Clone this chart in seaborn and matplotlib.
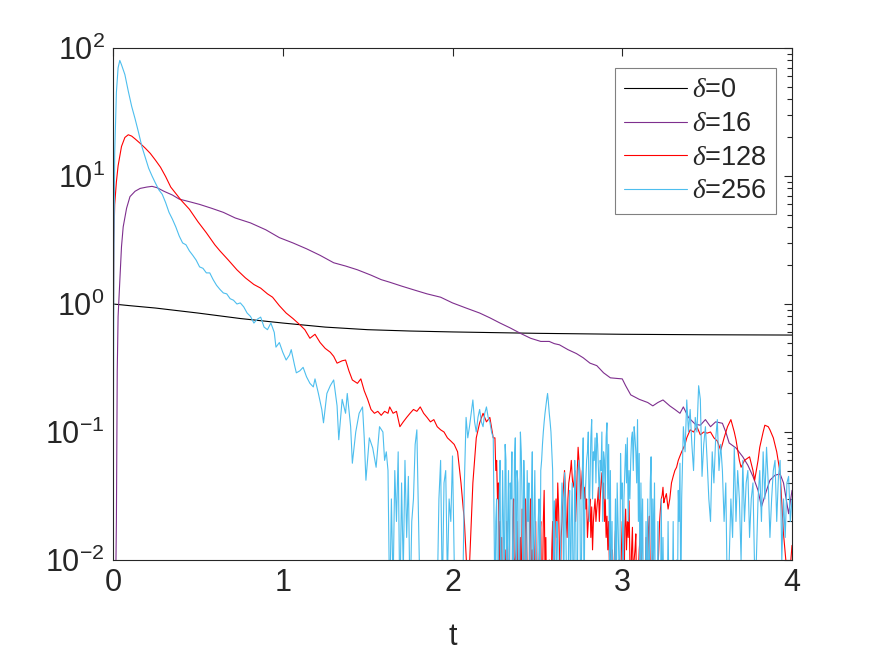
import numpy as np
import pandas as pd
import matplotlib
matplotlib.use("Agg")
import matplotlib.pyplot as plt
import seaborn as sns

# values (log scale, values < 0.01 fall below the axis)

t0 = [0, 0.1, 0.25, 0.5, 0.75, 1.0, 1.25, 1.5, 1.75, 2.0, 2.5, 3.0, 3.5, 4.0]
y0 = [1.0, 0.97, 0.93, 0.85, 0.77, 0.71, 0.66, 0.63, 0.615, 0.605, 0.59, 0.58, 0.575, 0.572]

t16 = [0.0, 0.015, 0.02, 0.025, 0.03, 0.04, 0.05, 0.06, 0.08, 0.10, 0.13, 0.16, 0.20, 0.23,
       0.26, 0.30, 0.35, 0.39, 0.45, 0.51, 0.58, 0.65, 0.72, 0.81, 0.90, 0.98, 1.06, 1.14,
       1.22, 1.30, 1.37, 1.44, 1.52, 1.58, 1.63, 1.70, 1.78, 1.85, 1.93, 2.00, 2.08, 2.16,
       2.22, 2.28, 2.34, 2.40, 2.46, 2.52, 2.57, 2.60, 2.63, 2.68, 2.73, 2.77, 2.81, 2.85,
       2.89, 2.93, 2.97, 3.00, 3.02, 3.05, 3.10, 3.15, 3.18, 3.21, 3.24, 3.28, 3.31, 3.34,
       3.36, 3.39, 3.43, 3.46, 3.49, 3.52, 3.55, 3.59, 3.61, 3.63, 3.67, 3.71, 3.74, 3.77,
       3.80, 3.82, 3.85, 3.87, 3.90, 3.93, 3.95, 3.98, 4.0]
y16 = [0.003, 0.005, 0.02, 0.3, 0.8, 1.5, 2.8, 4.0, 5.6, 6.9, 7.6, 8.0, 8.2, 8.3,
       8.1, 7.6, 7.1, 6.6, 6.3, 6.0, 5.6, 5.2, 4.7, 4.3, 3.8, 3.3, 3.0, 2.7,
       2.4, 2.1, 1.98, 1.85, 1.68, 1.55, 1.48, 1.38, 1.28, 1.2, 1.13, 1.02, 0.93, 0.85,
       0.78, 0.71, 0.65, 0.59, 0.54, 0.51, 0.51, 0.49, 0.48, 0.44, 0.41, 0.38, 0.345, 0.33,
       0.29, 0.265, 0.262, 0.26, 0.23, 0.195, 0.18, 0.17, 0.16, 0.17, 0.178, 0.16, 0.15, 0.14,
       0.157, 0.13, 0.115, 0.113, 0.125, 0.11, 0.12, 0.117, 0.1, 0.082, 0.075, 0.064, 0.055, 0.045,
       0.035, 0.026, 0.035, 0.042, 0.046, 0.047, 0.04, 0.023, 0.035]

# delta = 128: smooth part up to t = 2.24, noisy part from 2.25 to 3.35, tail after
t128_a = [0, 0.002, 0.005, 0.01, 0.02, 0.03, 0.05, 0.07, 0.09, 0.11, 0.13, 0.16, 0.19, 0.22,
          0.25, 0.28, 0.31, 0.34, 0.37, 0.40, 0.45, 0.50, 0.55, 0.60, 0.63, 0.68, 0.73, 0.78,
          0.83, 0.87, 0.91, 0.94, 0.98, 1.02, 1.06, 1.10, 1.13, 1.16, 1.19, 1.22, 1.25, 1.28,
          1.30, 1.32, 1.35, 1.37, 1.39, 1.41, 1.44, 1.46, 1.48, 1.50, 1.52, 1.54, 1.56, 1.58,
          1.60, 1.62, 1.63, 1.65, 1.67, 1.69, 1.71, 1.73, 1.75, 1.77, 1.79, 1.81, 1.83, 1.85,
          1.87, 1.89, 1.91, 1.93, 1.95, 1.97, 1.99, 2.01, 2.03, 2.05, 2.07, 2.09, 2.10, 2.12,
          2.14, 2.16, 2.18, 2.20, 2.22, 2.24]
y128_a = [0.004, 0.5, 3, 6, 9, 12, 17, 20, 21, 20.5, 19.5, 18, 16.5, 15,
          13.3, 11.7, 9.9, 8.2, 7.3, 6.5, 5.5, 4.4, 3.6, 2.9, 2.6, 2.2, 1.85, 1.6,
          1.42, 1.33, 1.2, 1.13, 0.97, 0.85, 0.77, 0.69, 0.63, 0.54, 0.58, 0.5, 0.45, 0.42,
          0.39, 0.345, 0.36, 0.365, 0.3, 0.255, 0.24, 0.26, 0.21, 0.18, 0.15, 0.14, 0.145, 0.135,
          0.145, 0.14, 0.157, 0.14, 0.145, 0.11, 0.12, 0.13, 0.14, 0.15, 0.145, 0.157, 0.14, 0.13,
          0.12, 0.125, 0.11, 0.104, 0.1, 0.09, 0.085, 0.08, 0.07, 0.04, 0.02, 0.006, 0.009, 0.04,
          0.09, 0.118, 0.14, 0.12, 0.13, 0.09]
t128_b = np.round(np.arange(2.25, 3.355, 0.01), 2)
y128_b = [0.09, 0.06, 0.04, 0.02, 0.015, 0.004, 0.012, 0.02, 0.006, 0.008,
          0.004, 0.03, 0.01, 0.02, 0.004, 0.015, 0.025, 0.006, 0.03, 0.008,
          0.004, 0.03, 0.012, 0.004, 0.02, 0.004, 0.01, 0.02, 0.006, 0.035,
          0.015, 0.004, 0.01, 0.004, 0.02, 0.008, 0.03, 0.04, 0.012, 0.015,
          0.03, 0.05, 0.02, 0.03, 0.045, 0.06, 0.037, 0.05, 0.03, 0.076,
          0.05, 0.04, 0.045, 0.037, 0.03, 0.02, 0.03, 0.026, 0.02, 0.03,
          0.025, 0.037, 0.03, 0.048, 0.04, 0.03, 0.022, 0.02, 0.015, 0.012,
          0.008, 0.017, 0.004, 0.01, 0.006, 0.02, 0.004, 0.025, 0.02, 0.029,
          0.006, 0.018, 0.01, 0.016, 0.004, 0.012, 0.02, 0.008, 0.004, 0.015,
          0.01, 0.022, 0.005, 0.012, 0.006, 0.004, 0.008, 0.02, 0.03, 0.037,
          0.03, 0.033, 0.025, 0.03, 0.04, 0.045, 0.05, 0.053, 0.06, 0.065, 0.07]
# half-step samples in the noisy band (t = 2.255 ... 3.245)
t128_m = np.round(np.arange(2.255, 3.25, 0.01), 3)
y128_m = [0.05, 0.03, 0.01, 0.004, 0.004, 0.008, 0.004, 0.012, 0.004, 0.004,
          0.02, 0.004, 0.012, 0.004, 0.008, 0.004, 0.012, 0.004, 0.02, 0.004,
          0.02, 0.004, 0.006, 0.012, 0.004, 0.006, 0.015, 0.004, 0.02, 0.008,
          0.004, 0.006, 0.004, 0.012, 0.004, 0.02, 0.015, 0.025, 0.004, 0.02,
          0.04, 0.035, 0.015, 0.04, 0.05, 0.045, 0.04, 0.02, 0.05, 0.06,
          0.03, 0.05, 0.03, 0.025, 0.015, 0.025, 0.015, 0.012, 0.025, 0.02,
          0.03, 0.02, 0.04, 0.03, 0.02, 0.015, 0.012, 0.008, 0.01, 0.004,
          0.012, 0.006, 0.004, 0.008, 0.012, 0.008, 0.018, 0.012, 0.015, 0.01,
          0.012, 0.006, 0.012, 0.004, 0.008, 0.015, 0.004, 0.006, 0.008, 0.004,
          0.018, 0.008, 0.008, 0.004, 0.004, 0.006, 0.012, 0.025, 0.032, 0.028]
t128_c = [3.37, 3.38, 3.40, 3.42, 3.44, 3.46, 3.48, 3.50, 3.52, 3.54, 3.56, 3.58, 3.60, 3.62,
          3.64, 3.66, 3.67, 3.69, 3.70, 3.72, 3.75, 3.77, 3.78, 3.80, 3.81, 3.83, 3.84, 3.86,
          3.87, 3.89, 3.91, 3.93, 3.95, 3.97, 3.98, 4.00]
y128_c = [0.08, 0.09, 0.104, 0.1, 0.11, 0.095, 0.1, 0.098, 0.1, 0.09, 0.085, 0.072, 0.09, 0.11,
          0.125, 0.1, 0.087, 0.06, 0.053, 0.06, 0.064, 0.05, 0.042, 0.06, 0.076, 0.1, 0.113, 0.11,
          0.104, 0.09, 0.07, 0.048, 0.016, 0.008, 0.006, 0.013]

# delta = 256: decay part up to t = 1.59, noisy part from 1.60 to 4.00
t256_a = [0, 0.005, 0.01, 0.02, 0.03, 0.04, 0.05, 0.07, 0.09, 0.11, 0.13, 0.15, 0.17, 0.19,
          0.21, 0.23, 0.25, 0.27, 0.29, 0.31, 0.33, 0.35, 0.37, 0.39, 0.41, 0.43, 0.45, 0.47,
          0.49, 0.51, 0.53, 0.55, 0.57, 0.59, 0.61, 0.63, 0.65, 0.67, 0.69, 0.71, 0.73, 0.75,
          0.77, 0.79, 0.81, 0.83, 0.85, 0.87, 0.89, 0.91, 0.93, 0.95, 0.96, 0.98, 1.00, 1.02,
          1.04, 1.05, 1.07, 1.08, 1.10, 1.12, 1.14, 1.16, 1.18, 1.19, 1.21, 1.23, 1.24, 1.26,
          1.28, 1.30, 1.32, 1.33, 1.35, 1.37, 1.38, 1.40, 1.41, 1.43, 1.45, 1.47, 1.48, 1.49,
          1.51, 1.53, 1.55, 1.57, 1.59]
y256_a = [0.005, 2, 15, 45, 70, 80, 74, 62, 46, 35, 28, 22, 17, 14,
          11.5, 10, 8.8, 7.8, 7.2, 6.2, 5.2, 4.6, 4.0, 3.4, 3.0, 2.9, 2.6, 2.4,
          2.2, 1.95, 1.9, 1.75, 1.75, 1.55, 1.4, 1.3, 1.22, 1.2, 1.1, 1.07, 1.0, 1.02,
          0.95, 0.85, 0.8, 0.71, 0.76, 0.79, 0.66, 0.63, 0.71, 0.6, 0.46, 0.5, 0.42, 0.365,
          0.4, 0.44, 0.33, 0.29, 0.3, 0.32, 0.27, 0.24, 0.225, 0.26, 0.2, 0.15, 0.118, 0.2,
          0.23, 0.255, 0.16, 0.087, 0.18, 0.14, 0.2, 0.11, 0.057, 0.1, 0.14, 0.157, 0.09, 0.042,
          0.09, 0.075, 0.053, 0.11, 0.1]
t256_b = np.round(np.arange(1.60, 4.005, 0.01), 2)
y256_b = [0.06, 0.07, 0.05, 0.004, 0.03, 0.006, 0.05, 0.02, 0.07, 0.004,
          0.04, 0.008, 0.06, 0.015, 0.045, 0.004, 0.02, 0.03, 0.08, 0.104,
          0.02, 0.004, 0.003, 0.004, 0.003, 0.004, 0.003, 0.004, 0.003, 0.004,
          0.003, 0.005, 0.03, 0.06, 0.005, 0.04, 0.05, 0.007, 0.03, 0.02,
          0.065, 0.01, 0.004, 0.003, 0.004, 0.003, 0.005, 0.04, 0.13, 0.09,
          0.11, 0.14, 0.178, 0.12, 0.1, 0.13, 0.15, 0.12, 0.11, 0.14,
          0.157, 0.13, 0.12, 0.1, 0.09, 0.004, 0.03, 0.005, 0.06, 0.008,
          0.02, 0.08, 0.004, 0.05, 0.04, 0.07, 0.01, 0.09, 0.05, 0.004,
          0.1, 0.03, 0.06, 0.006, 0.05, 0.04, 0.005, 0.07, 0.02, 0.01,
          0.006, 0.03, 0.05, 0.08, 0.12, 0.16, 0.2, 0.14, 0.1, 0.05,
          0.029, 0.005, 0.014, 0.004, 0.02, 0.03, 0.048, 0.01, 0.004, 0.035,
          0.02, 0.007, 0.06, 0.004, 0.05, 0.04, 0.01, 0.09, 0.03, 0.06,
          0.1, 0.04, 0.125, 0.07, 0.09, 0.098, 0.05, 0.06, 0.1, 0.07,
          0.03, 0.118, 0.08, 0.05, 0.02, 0.004, 0.03, 0.04, 0.01, 0.068,
          0.04, 0.03, 0.08, 0.09, 0.05, 0.06, 0.1, 0.11, 0.07, 0.125,
          0.068, 0.04, 0.03, 0.005, 0.02, 0.03, 0.01, 0.064, 0.03, 0.04,
          0.008, 0.02, 0.005, 0.03, 0.015, 0.004, 0.003, 0.02, 0.004, 0.003,
          0.02, 0.004, 0.01, 0.035, 0.057, 0.03, 0.11, 0.07, 0.178, 0.1,
          0.15, 0.08, 0.05, 0.13, 0.1, 0.23, 0.18, 0.045, 0.08, 0.11,
          0.06, 0.03, 0.02, 0.07, 0.04, 0.087, 0.125, 0.05, 0.08, 0.05,
          0.02, 0.04, 0.004, 0.01, 0.03, 0.015, 0.076, 0.02, 0.05, 0.03,
          0.01, 0.06, 0.02, 0.04, 0.05, 0.015, 0.03, 0.04, 0.008, 0.01,
          0.03, 0.05, 0.02, 0.07, 0.03, 0.076, 0.04, 0.015, 0.03, 0.05,
          0.06, 0.02, 0.045, 0.06, 0.01, 0.03, 0.015, 0.04, 0.045, 0.02,
          0.03]
# half-step samples in the dense band (t = 2.255 ... 3.345)
t256_m = np.round(np.arange(2.255, 3.35, 0.01), 3)
y256_m = [0.02, 0.004, 0.03, 0.004, 0.05, 0.003, 0.06, 0.02, 0.004, 0.03,
          0.004, 0.06, 0.003, 0.04, 0.005, 0.07, 0.004, 0.03, 0.004, 0.02,
          0.004, 0.03, 0.004, 0.05, 0.003, 0.02, 0.004, 0.06, 0.1, 0.14,
          0.18, 0.17, 0.12, 0.07, 0.01, 0.004, 0.02, 0.004, 0.01, 0.04,
          0.004, 0.03, 0.004, 0.02, 0.004, 0.04, 0.005, 0.03, 0.004, 0.06,
          0.004, 0.05, 0.004, 0.04, 0.07, 0.02, 0.09, 0.03, 0.06, 0.04,
          0.08, 0.03, 0.05, 0.02, 0.06, 0.09, 0.03, 0.01, 0.004, 0.003,
          0.01, 0.004, 0.02, 0.004, 0.03, 0.004, 0.05, 0.04, 0.02, 0.03,
          0.09, 0.05, 0.09, 0.04, 0.02, 0.004, 0.01, 0.004, 0.004, 0.004,
          0.004, 0.04, 0.005, 0.01, 0.004, 0.003, 0.004, 0.004, 0.003, 0.004,
          0.003, 0.004, 0.005, 0.003, 0.004, 0.003, 0.004, 0.004, 0.02, 0.004]

labels = [r'$\delta$=0', r'$\delta$=16', r'$\delta$=128', r'$\delta$=256']
colors = ['#000000', '#7E2F8E', '#FF0000', '#4DBEEE']

series = [
    (list(t0), y0),
    (list(t16), y16),
    (list(t128_a) + list(t128_b) + list(t128_m) + list(t128_c),
     y128_a + y128_b + y128_m + y128_c),
    (list(t256_a) + list(t256_b) + list(t256_m), y256_a + y256_b + y256_m),
]
frames = []
for lab, (tt, yy) in zip(labels, series):
    frames.append(pd.DataFrame({'t': tt, 'y': yy, 'delta': lab}))
df = pd.concat(frames, ignore_index=True)

sns.set_style("white")
plt.rcParams['font.family'] = ['Liberation Sans', 'DejaVu Sans']
plt.rcParams['mathtext.fontset'] = 'custom'
plt.rcParams['mathtext.rm'] = 'Liberation Sans'
plt.rcParams['mathtext.it'] = 'Liberation Serif:italic'

fig = plt.figure(figsize=(8.75, 6.57), dpi=100)
ax = fig.add_axes([113 / 875, 1 - 560 / 657, 679 / 875, 512 / 657])

sns.lineplot(data=df, x='t', y='y', hue='delta', palette=colors, hue_order=labels,
             estimator=None, sort=True, linewidth=0.8, ax=ax)

ax.set_yscale('log')
ax.set_xlim(0, 4)
ax.set_ylim(1e-2, 1e2)
ax.set_xticks([0, 1, 2, 3, 4])
ax.set_xticklabels(['0', '1', '2', '3', '4'])

axcol = '#262626'
for s in ax.spines.values():
    s.set_color(axcol)
    s.set_linewidth(0.8)
ax.tick_params(which='both', direction='in', top=True, right=True,
               colors=axcol, labelsize=22, width=0.8)
ax.tick_params(which='major', length=6, pad=6)
ax.tick_params(which='minor', length=3.5)
ax.set_xlabel('t', fontsize=22, color=axcol, labelpad=17)
ax.set_ylabel('')

leg = ax.legend(loc='upper right', bbox_to_anchor=(0.9765, 0.961), fontsize=19.5,
                frameon=True, fancybox=False, framealpha=1, edgecolor='#808080',
                handlelength=2.3, handletextpad=0.2, labelspacing=0.28,
                borderpad=0.35, borderaxespad=0)
leg.get_frame().set_linewidth(0.8)

fig.savefig('out.png', dpi=100)
